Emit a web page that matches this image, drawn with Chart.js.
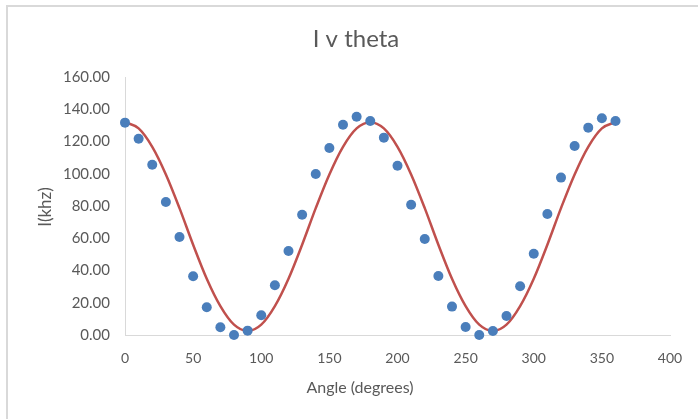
<!DOCTYPE html>
<html><head><meta charset="utf-8">
<script src="https://cdn.jsdelivr.net/npm/chart.js@4.4.1/dist/chart.umd.min.js"></script>
<style>html,body{margin:0;padding:0;background:#fff}#wrap{width:698px;height:419px;position:relative}</style>
</head><body><div id="wrap"><canvas id="c" width="698" height="419"></canvas></div>
<script>
const angles = [0,10,20,30,40,50,60,70,80,90,100,110,120,130,140,150,160,170,180,190,200,210,220,230,240,250,260,270,280,290,300,310,320,330,340,350,360];
const measured = [131.7,121.7,105.6,82.5,60.8,36.4,17.2,4.8,0,2.7,12.2,30.8,52.1,74.6,99.8,116,130.4,135.4,132.7,122.4,105,80.8,59.5,36.6,17.6,5,0,2.5,11.8,30.2,50.4,75,97.6,117.2,128.6,134.4,132.7];
const fitAngles = [0,10,20,30,40,50,60,70,80,90,100,110,120,130,140,150,160,170,180,190,200,210,220,230,240,250,260,270,280,290,300,310,320,330,340,350,360];
const fitValues = [132,128.1,116.7,99.6,78.7,56.0,34.9,17.9,6.4,2.5,6.4,17.9,34.9,56.0,78.7,99.6,116.7,128.1,132,128.1,116.7,99.6,78.7,56.0,34.9,17.9,6.4,2.5,6.4,17.9,34.9,56.0,78.7,99.6,116.7,128.1,132];
const xTicks = [0,50,100,150,200,250,300,350,400];
const yTicks = [0,20,40,60,80,100,120,140,160];
const chartTitle = 'I v theta';
const xTitle = 'Angle (degrees)';
const yTitle = 'I(khz)';

const textColor = '#595959';
const deco = {
  id: 'deco',
  afterDraw(chart) {
    const ctx = chart.ctx;
    ctx.save();
    ctx.strokeStyle = '#d9d9d9';
    ctx.lineWidth = 2;
    ctx.strokeRect(7, 6, 760, 460);
    ctx.fillStyle = textColor;
    ctx.textAlign = 'center';
    ctx.textBaseline = 'alphabetic';
    ctx.font = '24px Lato';
    ctx.fillText(chartTitle, 356, 47);
    ctx.font = '16px Lato';
    ctx.fillText(xTitle, 360, 393);
    ctx.font = '17px Lato';
    ctx.translate(51, 207);
    ctx.rotate(-Math.PI / 2);
    ctx.fillText(yTitle, 0, 0);
    ctx.restore();
  }
};

new Chart(document.getElementById('c'), {
  type: 'scatter',
  data: {
    datasets: [
      {
        label: 'measured',
        data: angles.map((a, i) => ({x: a, y: measured[i]})),
        pointRadius: 5,
        pointBackgroundColor: '#4A7EBB',
        pointBorderColor: '#4A7EBB',
        pointBorderWidth: 0,
        showLine: false,
        clip: false
      },
      {
        label: 'fit',
        data: fitAngles.map((a, i) => ({x: a, y: fitValues[i]})),
        showLine: true,
        pointRadius: 0,
        borderColor: '#C0504D',
        borderWidth: 2.5,
        cubicInterpolationMode: 'monotone',
        clip: false
      }
    ]
  },
  options: {
    responsive: false,
    animation: false,
    devicePixelRatio: 1,
    layout: {padding: {left: 0, right: 28, top: 77, bottom: 0}},
    plugins: {legend: {display: false}, tooltip: {enabled: false}, title: {display: false}},
    scales: {
      x: {
        type: 'linear', min: 0, max: 400,
        afterFit(s) { s.height = 84; },
        afterBuildTicks(s) { s.ticks = xTicks.map(v => ({value: v})); },
        grid: {display: false, drawTicks: false},
        border: {display: true, color: '#d9d9d9', width: 1},
        ticks: {padding: 15, color: textColor, font: {family: 'Lato', size: 14}, maxRotation: 0}
      },
      y: {
        type: 'linear', min: 0, max: 160,
        afterFit(s) { s.width = 125; },
        afterBuildTicks(s) { s.ticks = yTicks.map(v => ({value: v})); },
        grid: {display: false, drawTicks: false},
        border: {display: true, color: '#d9d9d9', width: 1},
        ticks: {padding: 15, color: textColor, font: {family: 'Lato', size: 15}, callback: v => Number(v).toFixed(2)}
      }
    }
  },
  plugins: [deco]
});
</script></body></html>
